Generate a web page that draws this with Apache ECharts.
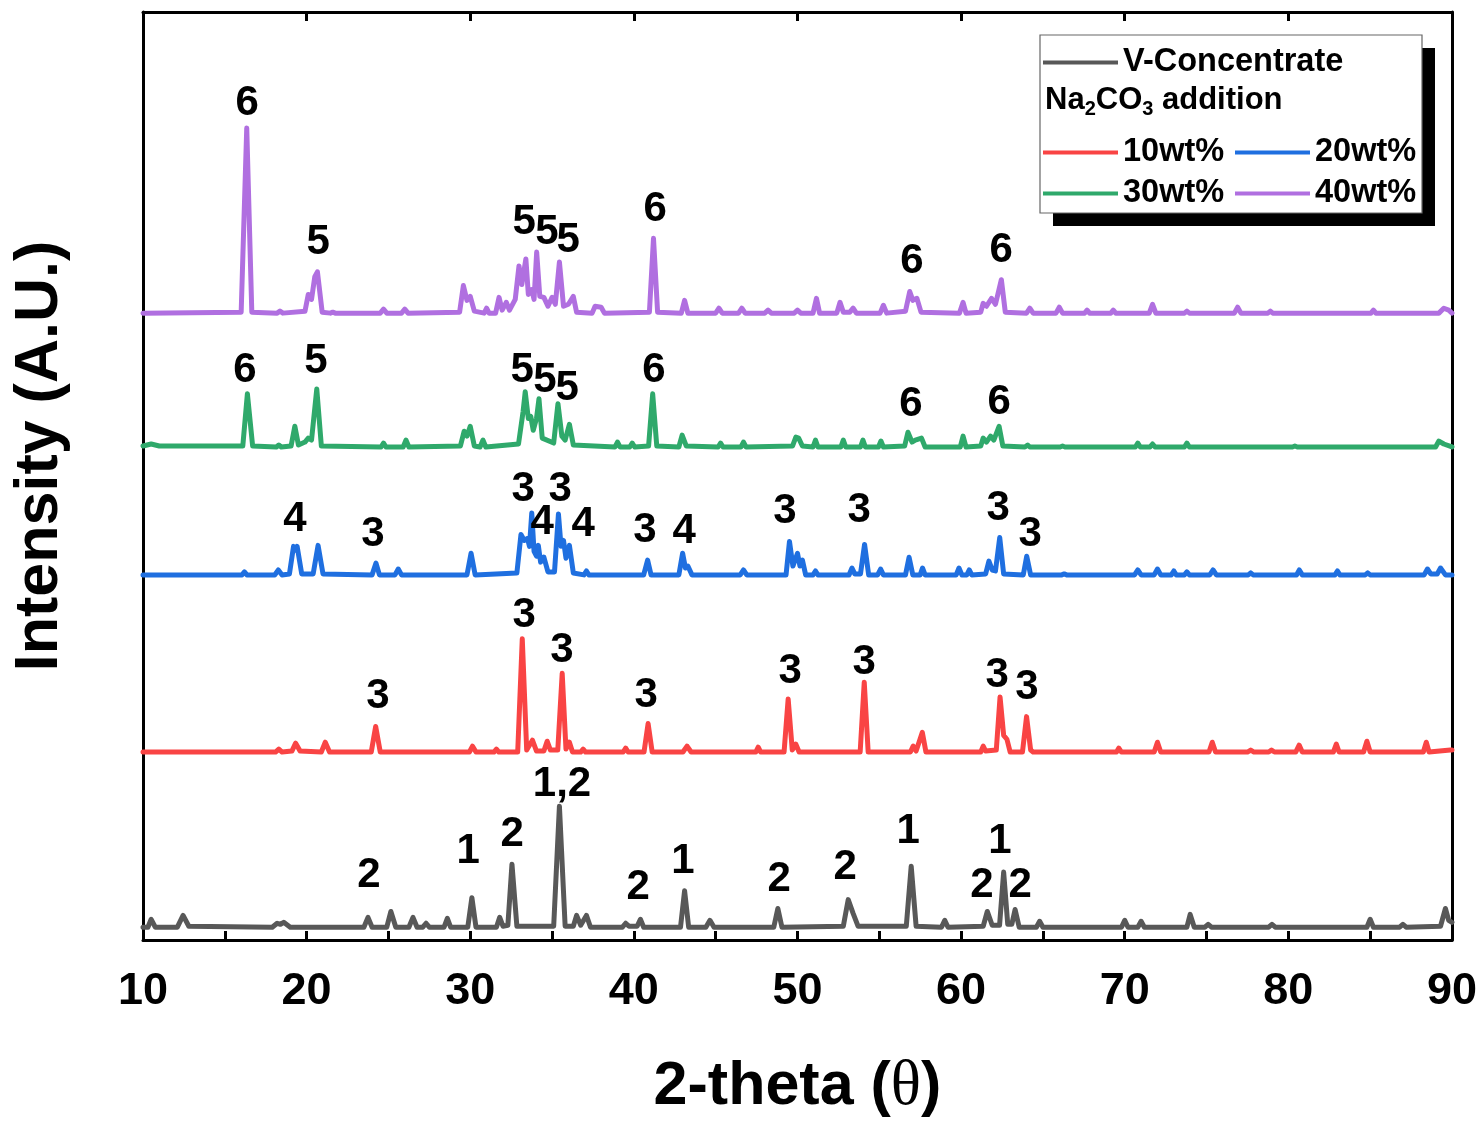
<!DOCTYPE html>
<html>
<head>
<meta charset="utf-8">
<script src="https://cdn.jsdelivr.net/npm/echarts@6/dist/echarts.min.js"></script>
<style>
  html, body { margin: 0; padding: 0; background: #fff; overflow: hidden; }
  #main { width: 1480px; height: 1124px; display: block; }
</style>
</head>
<body>
<div id="main"></div>
<script>
// XRD patterns, intensity (arbitrary units above each baseline)
var seriesNames = ['V-Concentrate', '10wt%', '20wt%', '30wt%', '40wt%'];
var seriesColors = ['#585858', '#f94444', '#1f6fe0', '#2fa96b', '#b06fe0'];
// vertical stacking of the patterns
var offsets = [12, 190, 370, 500, 636];

var vConc = [
  [10,1],[10.3,1],[10.5,9],[10.75,1],
  [12.1,1],[12.45,13],[12.8,2],
  [17.9,1],[18.2,5],[18.4,4],[18.6,6],[19.0,1],
  [23.5,1],[23.75,11],[24.0,1],
  [24.9,1],[25.15,17],[25.45,1],
  [26.25,1],[26.5,11],[26.75,1],
  [27.1,1],[27.3,5],[27.5,1],
  [28.4,1],[28.6,10],[28.8,1],
  [29.85,1],[30.1,31],[30.35,1],
  [31.6,1],[31.8,11],[32.0,2],[32.3,3],[32.55,65],[32.85,2],
  [35.1,2],[35.45,124],[35.8,2],
  [36.3,2],[36.5,13],[36.75,3],[37.1,13],[37.35,1],
  [39.3,1],[39.5,5],[39.7,2],[40.2,2],[40.4,9],[40.6,1],
  [42.85,1],[43.1,38],[43.35,1],
  [44.4,1],[44.65,8],[44.9,1],
  [48.55,1],[48.8,20],[49.05,1],
  [52.8,2],[53.1,29],[53.4,15],[53.7,2],
  [56.65,2],[56.95,63],[57.25,2],
  [58.8,1],[59.0,8],[59.2,1],
  [61.35,2],[61.6,17],[61.9,3],[62.35,3],[62.6,57],[62.85,4],[63.1,4],[63.3,19],[63.55,1],
  [64.6,1],[64.8,7],[65.0,1],
  [69.8,1],[70.0,8],[70.2,1],[70.8,1],[71.0,7],[71.2,1],
  [73.8,1],[74.0,14],[74.25,1],[74.9,1],[75.1,4],[75.3,1],
  [78.8,1],[79.0,4],[79.2,1],
  [84.8,1],[85.0,9],[85.2,1],
  [86.8,1],[87.0,4],[87.2,1],
  [89.3,2],[89.6,20],[89.8,8],[90,6]
];

var wt10 = [
  [10,1],[18.1,1],[18.3,4],[18.5,1],[19.1,2],[19.33,10],[19.6,2],
  [20.9,1],[21.14,11],[21.4,1],
  [23.95,1],[24.22,27],[24.5,1],
  [29.95,1],[30.14,7],[30.35,1],
  [31.45,1],[31.6,4],[31.75,1],
  [32.9,1],[33.18,116],[33.45,3],[33.8,13],[34.05,2],[34.5,2],[34.7,12],[34.9,3],
  [35.35,3],[35.62,81],[35.85,4],[36.06,11],[36.25,1],
  [36.75,1],[36.9,4],[37.05,1],
  [39.35,1],[39.5,5],[39.65,1],
  [40.62,1],[40.87,30],[41.12,1],
  [43.0,1],[43.25,7],[43.5,1],
  [47.45,1],[47.6,6],[47.75,1],
  [49.18,1],[49.43,55],[49.68,3],[49.9,9],[50.1,1],
  [53.83,1],[54.08,72],[54.32,1],
  [56.9,1],[57.07,7],[57.25,2],[57.63,21],[57.85,1],
  [61.2,1],[61.35,7],[61.5,2],[62.15,3],[62.38,57],[62.6,18],[62.8,14],[63.0,1],
  [63.75,1],[64.0,37],[64.25,3],[64.4,1],
  [69.5,1],[69.64,5],[69.8,1],
  [71.8,1],[72.0,11],[72.2,1],
  [75.15,1],[75.35,11],[75.55,1],
  [77.5,1],[77.7,3],[77.9,1],[78.8,1],[78.97,3],[79.15,1],
  [80.45,1],[80.66,8],[80.85,1],
  [82.75,1],[82.93,9],[83.1,1],
  [84.6,1],[84.8,12],[85.0,1],
  [88.25,1],[88.43,11],[88.6,1],[89.9,3],[90,3]
];

var wt20 = [
  [10,1],[16.05,1],[16.2,4],[16.35,1],
  [18.05,1],[18.27,6],[18.5,1],
  [18.95,2],[19.2,30],[19.3,26],[19.42,30],[19.7,2],
  [20.4,2],[20.7,31],[21.0,2],
  [24.0,1],[24.24,13],[24.45,1],
  [25.4,1],[25.6,7],[25.8,1],
  [29.8,1],[30.05,23],[30.3,1],
  [32.85,3],[33.1,42],[33.3,36],[33.5,38],[33.62,30],[33.76,64],[33.9,25],[34.05,20],[34.16,31],[34.3,14],[34.5,19],[34.75,4],
  [35.15,4],[35.39,63],[35.55,30],[35.7,36],[35.85,18],[36.06,31],[36.3,3],
  [36.95,1],[37.1,5],[37.25,1],
  [40.6,1],[40.84,16],[41.05,1],
  [42.75,1],[42.98,23],[43.15,8],[43.3,10],[43.55,1],
  [46.5,1],[46.7,6],[46.9,1],
  [49.3,1],[49.51,35],[49.72,10],[50.0,23],[50.15,10],[50.3,16],[50.5,1],
  [50.95,1],[51.1,5],[51.25,1],
  [53.15,1],[53.33,8],[53.5,2],[53.85,2],[54.1,32],[54.35,1],
  [54.9,1],[55.08,7],[55.25,1],
  [56.6,1],[56.82,19],[57.05,1],
  [57.5,1],[57.64,8],[57.8,1],
  [59.7,1],[59.87,8],[60.05,1],[60.35,1],[60.5,6],[60.65,1],
  [61.5,2],[61.7,15],[61.9,6],[62.1,5],[62.36,39],[62.6,2],
  [63.8,1],[64.01,20],[64.25,1],
  [66.15,1],[66.3,2],[66.45,1],
  [70.6,1],[70.8,6],[71.0,1],[71.8,1],[72.0,7],[72.2,1],
  [72.85,1],[73.0,5],[73.15,1],[73.65,1],[73.8,4],[73.95,1],
  [75.2,1],[75.4,6],[75.6,1],[77.55,1],[77.7,3],[77.85,1],
  [80.5,1],[80.67,6],[80.85,1],[82.85,1],[83.0,5],[83.15,1],
  [84.7,1],[84.85,3],[85.0,1],
  [88.3,1],[88.5,7],[88.7,2],[89.1,2],[89.3,8],[89.6,1],[90,1]
];

var wt30 = [
  [10,2],[10.5,4],[11,2],
  [16.1,2],[16.38,55],[16.7,2],
  [18.15,1],[18.3,3],[18.45,1],
  [19.05,2],[19.28,22],[19.5,3],[19.9,6],[20.1,10],[20.3,8],[20.62,60],[20.9,2],
  [24.55,1],[24.7,5],[24.85,1],
  [25.9,1],[26.07,8],[26.25,1],
  [29.4,2],[29.63,17],[29.8,12],[30.0,22],[30.25,2],
  [30.6,1],[30.78,8],[30.95,1],
  [32.95,4],[33.23,37],[33.36,57],[33.55,30],[33.7,32],[33.85,18],[34.05,30],[34.2,50],[34.4,10],
  [35.1,5],[35.36,45],[35.6,12],[35.8,8],[36.06,24],[36.3,3],
  [38.85,1],[39.0,6],[39.15,1],[39.75,1],[39.9,5],[40.05,1],
  [40.9,2],[41.15,55],[41.4,2],
  [42.75,1],[42.95,13],[43.2,2],
  [45.15,1],[45.3,5],[45.45,1],
  [46.55,1],[46.7,6],[46.85,1],
  [49.7,2],[49.9,11],[50.07,10],[50.3,2],
  [50.95,1],[51.1,8],[51.25,1],
  [52.65,1],[52.8,8],[52.95,1],
  [53.85,1],[54.0,8],[54.15,1],
  [54.95,1],[55.1,7],[55.25,1],
  [56.55,2],[56.75,16],[57.0,6],[57.2,8],[57.58,10],[57.8,1],
  [59.95,1],[60.12,12],[60.3,1],
  [61.2,2],[61.35,10],[61.55,6],[61.8,12],[62.0,8],[62.32,22],[62.55,2],
  [63.9,1],[64.07,3],[64.2,1],
  [66.05,1],[66.2,2],[66.35,1],
  [70.65,1],[70.8,5],[70.95,1],[71.55,1],[71.7,4],[71.85,1],
  [73.65,1],[73.8,5],[73.95,1],
  [80.25,1],[80.4,2],[80.55,1],
  [89.0,1],[89.2,7],[89.5,4],[90,1]
];

var wt40 = [
  [10,1],[16.0,2],[16.34,189],[16.65,2],
  [18.2,1],[18.37,3],[18.55,1],
  [19.9,3],[20.1,20],[20.3,15],[20.5,38],[20.66,43],[20.95,2],
  [21.45,1],[21.6,2],[21.75,1],
  [24.5,1],[24.7,5],[24.9,1],
  [25.8,1],[26.0,5],[26.2,1],
  [29.35,2],[29.58,29],[29.8,14],[30.0,18],[30.25,3],
  [30.85,1],[31.0,6],[31.15,1],
  [31.55,1],[31.76,17],[31.95,4],[32.2,12],[32.4,4],
  [32.75,15],[32.98,49],[33.15,30],[33.4,56],[33.55,20],[33.75,25],[33.9,15],[34.06,63],[34.25,18],[34.5,17],[34.75,8],[35.0,17],[35.2,10],[35.45,53],[35.7,8],[36.0,10],[36.3,18],[36.5,2],
  [37.45,1],[37.63,8],[38.0,7],[38.2,1],
  [40.95,2],[41.2,77],[41.45,2],
  [42.9,1],[43.1,14],[43.3,1],
  [45.0,1],[45.2,6],[45.4,1],[46.4,1],[46.6,6],[46.8,1],
  [48.0,1],[48.2,4],[48.4,1],[49.8,1],[50.0,4],[50.2,1],
  [50.95,1],[51.16,16],[51.35,1],
  [52.4,1],[52.6,12],[52.8,2],[53.2,2],[53.4,6],[53.6,1],
  [55.05,1],[55.25,9],[55.45,1],
  [56.6,3],[56.86,23],[57.05,14],[57.3,16],[57.55,2],
  [59.9,1],[60.12,12],[60.3,1],
  [61.2,2],[61.35,11],[61.55,8],[61.86,16],[62.1,10],[62.46,35],[62.7,2],
  [64.0,1],[64.2,6],[64.4,1],
  [65.8,1],[66.0,7],[66.2,1],
  [67.55,1],[67.7,4],[67.85,1],[69.15,1],[69.3,4],[69.45,1],
  [71.5,1],[71.7,10],[71.9,1],
  [73.65,1],[73.8,3],[73.95,1],
  [76.7,1],[76.9,7],[77.1,1],
  [78.75,1],[78.9,3],[79.05,1],
  [85.05,1],[85.2,4],[85.35,1],
  [89.2,1],[89.5,6],[89.8,4],[90,1]
];

// phase labels: [2theta, height on the stacked scale, text]
var labelsV = [[23.81,66,'2'],[29.87,90,'1'],[32.56,107,'2'],[35.61,158,'1,2'],[40.26,53,'2'],[43.0,80,'1'],
               [48.88,62,'2'],[52.91,74,'2'],[56.76,110,'1'],[61.28,55,'2'],[62.38,100,'1'],[63.61,55,'2']];
var labels10 = [[24.36,248,'3'],[33.29,330,'3'],[35.61,294,'3'],[40.75,249,'3'],[49.55,273,'3'],[54.07,282,'3'],
                [62.2,269,'3'],[64.03,257,'3']];
var labels20 = [[19.29,427,'4'],[24.06,412,'3'],[33.23,458,'3'],[35.49,458,'3'],[34.39,424,'4'],[36.9,422,'4'],
                [40.68,416,'3'],[43.07,415,'4'],[49.24,436,'3'],[53.77,437,'3'],[62.26,439,'3'],[64.22,412,'3']];
var labels30 = [[16.23,579,'6'],[20.57,588,'5'],[33.17,579,'5'],[34.57,569,'5'],[35.92,561,'5'],[41.23,579,'6'],
                [56.94,544,'6'],[62.32,546,'6']];
var labels40 = [[16.36,850,'6'],[20.7,709,'5'],[33.29,729,'5'],[34.69,719,'5'],[35.98,711,'5'],[41.3,742,'6'],
                [57.0,690,'6'],[62.45,701,'6']];

var xTicks = [10, 20, 30, 40, 50, 60, 70, 80, 90];

var patterns = [vConc, wt10, wt20, wt30, wt40];
var labelSets = [labelsV, labels10, labels20, labels30, labels40];

// follow the real viewport height so the layout fills the photographed window
var H = window.innerHeight || 1124;
var sy = H / 1124;
function Y(v) { return Math.round(v * sy); }
document.getElementById('main').style.height = H + 'px';

var myChart = echarts.init(document.getElementById('main'));

var series = patterns.map(function (pts, i) {
  return {
    name: seriesNames[i],
    type: 'line',
    showSymbol: false,
    symbol: 'none',
    animation: false,
    data: pts.map(function (p) { return [p[0], p[1] + offsets[i]]; }),
    lineStyle: { color: seriesColors[i], width: 5, join: 'round', cap: 'round' },
    itemStyle: { color: seriesColors[i] },
    markPoint: {
      symbol: 'circle',
      symbolSize: 0,
      animation: false,
      silent: true,
      label: {
        show: true,
        position: 'inside',
        color: '#000',
        fontFamily: 'Liberation Sans, Arial, sans-serif',
        fontWeight: 'bold',
        fontSize: 42,
        formatter: function (p) { return p.name; }
      },
      data: labelSets[i].map(function (l) { return { name: l[2], coord: [l[0], l[1]] }; })
    }
  };
});

var legendText = {
  color: '#000',
  fontFamily: 'Liberation Sans, Arial, sans-serif',
  fontWeight: 'bold',
  fontSize: 32.5
};
function oneLegend(name, left, top) {
  return {
    data: [name],
    left: left,
    top: Y(top),
    z: 10,
    icon: 'rect',
    itemWidth: 75,
    itemHeight: 4,
    itemGap: 8,
    padding: 0,
    selectedMode: false,
    textStyle: legendText
  };
}

var option = {
  backgroundColor: '#fff',
  animation: false,
  grid: { left: 143, right: 28, top: Y(12), bottom: Y(169), containLabel: false },
  legend: [
    oneLegend('V-Concentrate', 1043, 46),
    oneLegend('10wt%', 1043, 136),
    oneLegend('20wt%', 1235, 136),
    oneLegend('30wt%', 1043, 177),
    oneLegend('40wt%', 1235, 177)
  ],
  graphic: [
    { type: 'rect', shape: { x: 1053, y: Y(48), width: 382, height: Y(178) }, style: { fill: '#000' }, z: 1 },
    { type: 'rect', shape: { x: 1040, y: Y(35), width: 382, height: Y(178) }, style: { fill: '#fff', stroke: '#666', lineWidth: 1.2 }, z: 1 },
    {
      type: 'text', left: 1045, top: Y(85), z: 6,
      style: {
        text: 'Na{s|2}CO{s|3} addition',
        fill: '#000',
        font: 'bold 31px "Liberation Sans", Arial, sans-serif',
        rich: {
          s: { fontSize: 20, fontWeight: 'bold', fontFamily: 'Liberation Sans', fill: '#000', verticalAlign: 'bottom', padding: [18, 0, 0, 0] }
        }
      }
    }
  ],
  xAxis: [
    {
      type: 'value', min: 10, max: 90, interval: 10, position: 'bottom',
      name: '2-theta ({t|θ})', nameLocation: 'middle', nameGap: Y(116),
      nameTextStyle: {
        color: '#000', fontFamily: 'Liberation Sans, Arial, sans-serif', fontWeight: 'bold', fontSize: 61,
        rich: { t: { fontFamily: 'Liberation Serif, serif', fontWeight: 'normal', fontSize: 63, color: '#000' } }
      },
      axisLine: { show: true, onZero: false, lineStyle: { color: '#000', width: 3 } },
      axisTick: { show: true, inside: true, length: 9, lineStyle: { color: '#000', width: 3 } },
      minorTick: { show: true, splitNumber: 2, length: 9, lineStyle: { color: '#000', width: 3 } },
      axisLabel: {
        margin: Y(29), color: '#000', fontFamily: 'Liberation Sans, Arial, sans-serif', fontWeight: 'bold', fontSize: 45,
        formatter: function (v) { return xTicks.indexOf(v) >= 0 ? String(v) : ''; }
      },
      splitLine: { show: false }
    },
    {
      type: 'value', min: 10, max: 90, interval: 10, position: 'top',
      axisLine: { show: true, onZero: false, lineStyle: { color: '#000', width: 3 } },
      axisTick: { show: true, inside: true, length: 9, lineStyle: { color: '#000', width: 3 } },
      axisLabel: { show: false },
      splitLine: { show: false }
    }
  ],
  yAxis: [
    {
      type: 'value', min: 0, max: 943, position: 'left',
      name: 'Intensity (A.U.)', nameLocation: 'middle', nameGap: 72, nameRotate: 90,
      nameTextStyle: { color: '#000', fontFamily: 'Liberation Sans, Arial, sans-serif', fontWeight: 'bold', fontSize: 61, padding: [0, 0, 0, 40] },
      axisLine: { show: true, onZero: false, lineStyle: { color: '#000', width: 3 } },
      axisTick: { show: false },
      axisLabel: { show: false },
      splitLine: { show: false }
    },
    {
      type: 'value', min: 0, max: 943, position: 'right',
      axisLine: { show: true, onZero: false, lineStyle: { color: '#000', width: 3 } },
      axisTick: { show: false },
      axisLabel: { show: false },
      splitLine: { show: false }
    }
  ],
  series: series
};

myChart.setOption(option);
</script>
</body>
</html>
